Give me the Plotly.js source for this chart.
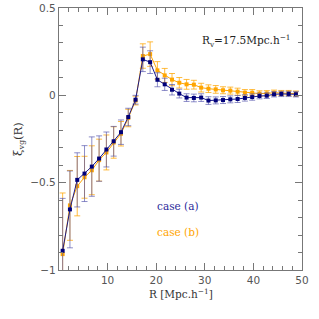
<!DOCTYPE html>
<html><head><meta charset="utf-8">
<script src="https://cdn.plot.ly/plotly-3.0.1.min.js"></script>
<style>html,body{margin:0;padding:0;background:#fff}#chart{width:319px;height:319px}</style>
</head><body><div id="chart"></div>
<script>
const R = [0.75,2.25,3.75,5.25,6.75,8.25,9.75,11.25,12.75,14.25,15.75,17.25,18.75,20.25,21.75,23.25,24.75,26.25,27.75,29.25,30.75,32.25,33.75,35.25,36.75,38.25,39.75,41.25,42.75,44.25,45.75,47.25,48.75];
const caseA = [-0.89,-0.653,-0.484,-0.448,-0.408,-0.362,-0.31,-0.263,-0.211,-0.124,-0.025,0.206,0.19,0.089,0.063,0.032,0.01,-0.013,-0.015,-0.013,-0.03,-0.029,-0.027,-0.023,-0.021,-0.015,-0.01,-0.004,-0.002,0.006,0.008,0.008,0.006];
const errA = [0.3,0.22,0.155,0.16,0.17,0.13,0.1,0.085,0.07,0.05,0.025,0.07,0.065,0.04,0.035,0.03,0.025,0.022,0.022,0.022,0.022,0.02,0.02,0.02,0.02,0.018,0.018,0.016,0.016,0.015,0.015,0.015,0.015];
const caseB = [-0.909,-0.63,-0.52,-0.469,-0.429,-0.371,-0.327,-0.27,-0.22,-0.13,-0.03,0.225,0.236,0.143,0.114,0.09,0.072,0.063,0.061,0.044,0.038,0.034,0.029,0.027,0.021,0.015,0.015,0.01,0.011,0.015,0.013,0.013,0.01];
const errB = [0.35,0.2,0.17,0.12,0.14,0.12,0.1,0.09,0.07,0.05,0.025,0.07,0.07,0.05,0.04,0.035,0.03,0.028,0.025,0.025,0.022,0.022,0.02,0.02,0.02,0.018,0.018,0.016,0.016,0.015,0.015,0.015,0.015];
const xTickVals = [10,20,30,40,50];
const xTickText = ['10','20','30','40','50'];
const yTickVals = [-1,-0.5,0,0.5];
const yTickText = ['\u22121','\u22120.5','0','0.5'];

const serif = 'DejaVu Serif, serif';
const traces = [
  {x:R, y:caseB, type:'scatter', mode:'lines+markers', name:'case (b)',
   line:{color:'#FFA500', width:1}, marker:{symbol:'square', size:4, color:'#FFA500'},
   error_y:{type:'data', array:errB, visible:true, color:'rgba(255,165,0,0.75)', thickness:1, width:3}},
  {x:R, y:caseA, type:'scatter', mode:'lines+markers', name:'case (a)',
   line:{color:'#1a1a8c', width:1}, marker:{symbol:'square', size:4, color:'#00007a'},
   error_y:{type:'data', array:errA, visible:true, color:'rgba(80,80,170,0.65)', thickness:1, width:3}}
];
const axisCommon = {showgrid:false, zeroline:false, showline:true, linecolor:'#777', linewidth:1.2,
  ticks:'inside', mirror:'ticks', tickcolor:'#777', tickwidth:1, ticklen:7,
  tickfont:{family:'DejaVu Sans, sans-serif', size:10.5, color:'#555'}};
const layout = {
  width:319, height:319, margin:{l:59, r:17, t:8, b:49},
  paper_bgcolor:'#fff', plot_bgcolor:'#fff', showlegend:false,
  xaxis:Object.assign({}, axisCommon, {range:[0,50], tickvals:xTickVals, ticktext:xTickText,
    minor:{dtick:2, ticks:'inside', ticklen:4, tickcolor:'#777'}}),
  yaxis:Object.assign({}, axisCommon, {range:[-1,0.5], tickvals:yTickVals, ticktext:yTickText,
    minor:{dtick:0.1, ticks:'inside', ticklen:4, tickcolor:'#777'}}),
  annotations:[
    {xref:'paper', yref:'paper', x:0.5, y:-0.088, xanchor:'center', yanchor:'middle', showarrow:false,
     text:'R [Mpc.h<sup>\u22121</sup>]', font:{family:serif, size:10.5, color:'#333'}},
    {xref:'paper', yref:'paper', x:-0.169, y:0.5, xanchor:'center', yanchor:'middle', showarrow:false, textangle:-90,
     text:'\u03be<sub>vg</sub>(R)', font:{family:serif, size:11.5, color:'#333'}},
    {xref:'paper', yref:'paper', x:0.963, y:0.875, xanchor:'right', yanchor:'middle', showarrow:false,
     text:'R<sub>v</sub>=17.5Mpc.h<sup>\u22121</sup>', font:{family:serif, size:10.5, color:'#222'}},
    {xref:'x', yref:'y', x:24.5, y:-0.634, xanchor:'center', yanchor:'middle', showarrow:false,
     text:'case (a)', font:{family:serif, size:10.5, color:'#2a2a9a'}},
    {xref:'x', yref:'y', x:24.5, y:-0.783, xanchor:'center', yanchor:'middle', showarrow:false,
     text:'case (b)', font:{family:serif, size:10.5, color:'#FFA500'}}
  ]
};
Plotly.newPlot('chart', traces, layout, {displayModeBar:false, staticPlot:true});
</script></body></html>
